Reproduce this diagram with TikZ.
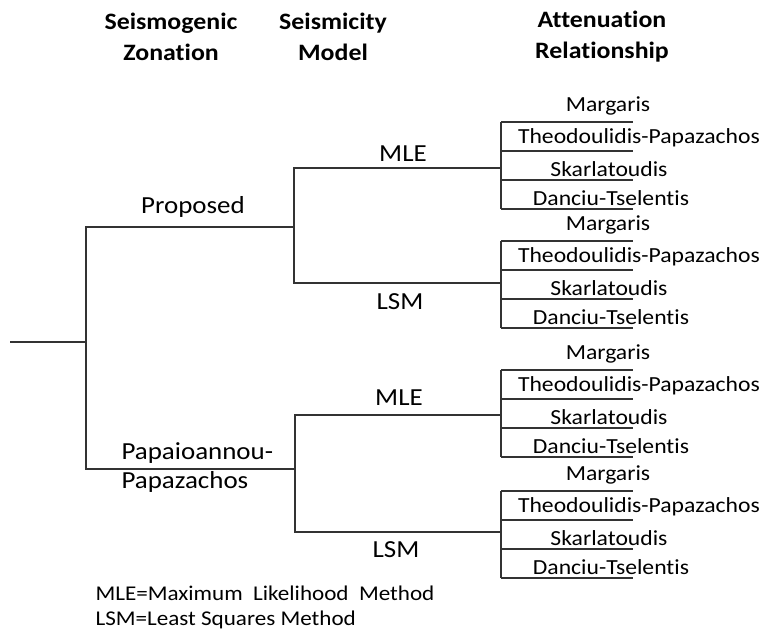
\documentclass[tikz,border=0pt]{standalone}
\usepackage{fontspec}
\setmainfont{Carlito}[FakeStretch=1.1,Ligatures=NoCommon]
\begin{document}
\begin{tikzpicture}[x=1pt,y=-1pt,line width=1.1pt,draw=black!80,
    lbl/.style={font=\fontsize{24.5}{29}\selectfont,inner sep=0pt},
    att/.style={font=\fontsize{21.5}{25}\selectfont,inner sep=0pt},
    head/.style={font=\bfseries\fontsize{23.5}{31}\selectfont,align=center,inner sep=0pt},
    note/.style={font=\fontsize{21}{25}\selectfont,align=left,anchor=west,inner sep=0pt}]
    \useasboundingbox (0,0) rectangle (764,631);
    % column heads
    \node[head] (hzone) at (171,37) {Seismogenic\\Zonation};
    \node[head] (hmodel) at (333,37) {Seismicity\\Model};
    \node[head] (hatt) at (602,37) {Attenuation\\Relationship};
    % branch points
    \coordinate (root) at (10,342);
    \coordinate (zone) at (86,342);
    \coordinate (prop) at (294,227);
    \coordinate (papa) at (295,469);
    \coordinate (propmle) at (501,168);
    \coordinate (proplsm) at (501,283);
    \coordinate (papamle) at (501,415);
    \coordinate (papalsm) at (501,532);
    \draw (root) -- (zone);
    \draw (prop) -| (zone) |- (papa);
    \draw (propmle) -| (prop) |- (proplsm);
    \draw (papamle) -| (papa) |- (papalsm);
    \node[lbl] (proposed) at (193,207) {Proposed};
    \node[lbl,align=left,anchor=west] (papaioannou) at (121,468) {Papaioannou-\\Papazachos};
    \node[lbl] (mle1) at (403,154) {MLE};
    \node[lbl] (lsm1) at (400,302) {LSM};
    \node[lbl] (mle2) at (399,398) {MLE};
    \node[lbl] (lsm2) at (396,550) {LSM};
    % attenuation relationships
    \foreach \g/\top in {a/122,b/241,c/370,d/491}{
        \coordinate (\g0) at (501,\top);
        \draw (\g0) -- ++(0,87);
        \foreach \i/\name/\cx/\dy in {1/Margaris/608/-16,2/Theodoulidis-Papazachos/639/16,3/Skarlatoudis/609/47,4/Danciu-Tselentis/611/76}{
            \draw (\g0) ++(0,29*\i-29) -- ++(132,0);
            \node[att] (\g\i) at (\cx,\top+\dy) {\name};
        }
    }
    \node[note] (legend) at (95,607) {MLE=Maximum\ \ Likelihood\ \ Method\\LSM=Least Squares Method};
\end{tikzpicture}
\end{document}
